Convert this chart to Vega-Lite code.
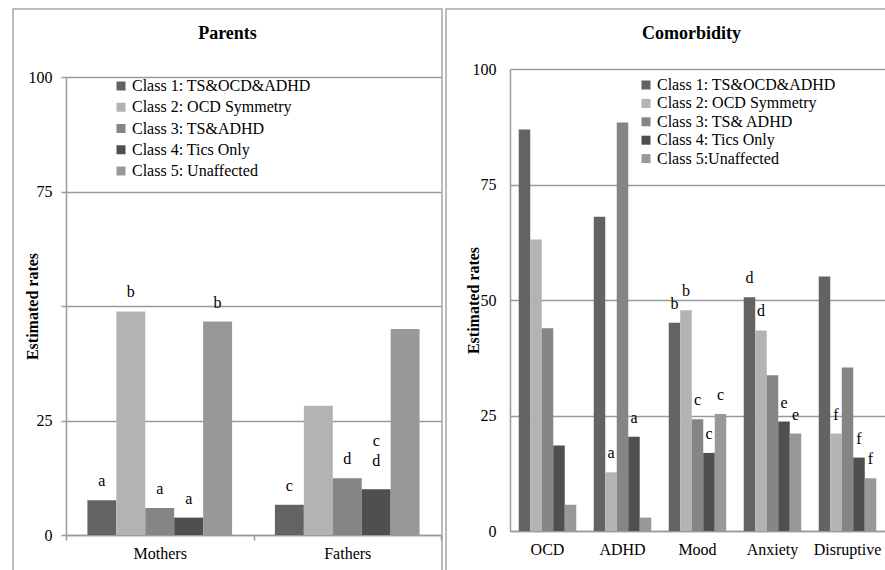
{
  "$schema": "https://vega.github.io/schema/vega-lite/v6.json",
  "padding": {"left": 12, "top": 8, "right": 0, "bottom": 0},
  "spacing": 2,
  "background": "white",
  "config": {
    "font": "Liberation Serif",
    "view": {"stroke": "#a6a6a6", "strokeWidth": 1.5},
    "axis": {"labelFont": "Liberation Serif", "labelFontSize": 16, "labelColor": "#000", "titleFont": "Liberation Serif", "titleColor": "#000", "domainColor": "#9a9a9a", "domainWidth": 1.5, "tickColor": "#9a9a9a", "tickWidth": 1.5, "gridColor": "#9a9a9a", "gridWidth": 1.5},
    "legend": {"labelFont": "Liberation Serif", "labelFontSize": 16, "labelColor": "#000", "labelLimit": 0, "symbolType": "square", "symbolSize": 81, "symbolStrokeWidth": 0, "padding": 0, "labelOffset": 3},
    "title": {"font": "Liberation Serif", "fontSize": 18, "fontWeight": "bold", "color": "#000"}
  },
  "datasets": {
    "parents": [
      {"group": "Mothers", "cls": "Class 1: TS&OCD&ADHD", "rate": 7.6, "sig": "a"},
      {"group": "Mothers", "cls": "Class 2: OCD Symmetry", "rate": 48.8, "sig": "b"},
      {"group": "Mothers", "cls": "Class 3: TS&ADHD", "rate": 5.9, "sig": "a"},
      {"group": "Mothers", "cls": "Class 4: Tics Only", "rate": 3.8, "sig": "a"},
      {"group": "Mothers", "cls": "Class 5: Unaffected", "rate": 46.6, "sig": "b"},
      {"group": "Fathers", "cls": "Class 1: TS&OCD&ADHD", "rate": 6.6, "sig": "c"},
      {"group": "Fathers", "cls": "Class 2: OCD Symmetry", "rate": 28.2, "sig": ""},
      {"group": "Fathers", "cls": "Class 3: TS&ADHD", "rate": 12.4, "sig": "d"},
      {"group": "Fathers", "cls": "Class 4: Tics Only", "rate": 10.0, "sig": "c\nd"},
      {"group": "Fathers", "cls": "Class 5: Unaffected", "rate": 45.0, "sig": ""}
    ],
    "comorb": [
      {"group": "OCD", "cls": "Class 1: TS&OCD&ADHD", "rate": 86.9, "sig": ""},
      {"group": "OCD", "cls": "Class 2: OCD Symmetry", "rate": 63.1, "sig": ""},
      {"group": "OCD", "cls": "Class 3: TS& ADHD", "rate": 43.9, "sig": ""},
      {"group": "OCD", "cls": "Class 4: Tics Only", "rate": 18.5, "sig": ""},
      {"group": "OCD", "cls": "Class 5:Unaffected", "rate": 5.7, "sig": ""},
      {"group": "ADHD", "cls": "Class 1: TS&OCD&ADHD", "rate": 68.0, "sig": ""},
      {"group": "ADHD", "cls": "Class 2: OCD Symmetry", "rate": 12.7, "sig": "a"},
      {"group": "ADHD", "cls": "Class 3: TS& ADHD", "rate": 88.4, "sig": ""},
      {"group": "ADHD", "cls": "Class 4: Tics Only", "rate": 20.4, "sig": "a"},
      {"group": "ADHD", "cls": "Class 5:Unaffected", "rate": 2.9, "sig": ""},
      {"group": "Mood", "cls": "Class 1: TS&OCD&ADHD", "rate": 45.1, "sig": "b"},
      {"group": "Mood", "cls": "Class 2: OCD Symmetry", "rate": 47.8, "sig": "b"},
      {"group": "Mood", "cls": "Class 3: TS& ADHD", "rate": 24.2, "sig": "c"},
      {"group": "Mood", "cls": "Class 4: Tics Only", "rate": 16.9, "sig": "c"},
      {"group": "Mood", "cls": "Class 5:Unaffected", "rate": 25.3, "sig": "c"},
      {"group": "Anxiety", "cls": "Class 1: TS&OCD&ADHD", "rate": 50.6, "sig": "d"},
      {"group": "Anxiety", "cls": "Class 2: OCD Symmetry", "rate": 43.4, "sig": "d"},
      {"group": "Anxiety", "cls": "Class 3: TS& ADHD", "rate": 33.7, "sig": ""},
      {"group": "Anxiety", "cls": "Class 4: Tics Only", "rate": 23.7, "sig": "e"},
      {"group": "Anxiety", "cls": "Class 5:Unaffected", "rate": 21.1, "sig": "e"},
      {"group": "Disruptive", "cls": "Class 1: TS&OCD&ADHD", "rate": 55.1, "sig": ""},
      {"group": "Disruptive", "cls": "Class 2: OCD Symmetry", "rate": 21.1, "sig": "f"},
      {"group": "Disruptive", "cls": "Class 3: TS& ADHD", "rate": 35.4, "sig": ""},
      {"group": "Disruptive", "cls": "Class 4: Tics Only", "rate": 15.9, "sig": "f"},
      {"group": "Disruptive", "cls": "Class 5:Unaffected", "rate": 11.4, "sig": "f"}
    ]
  },
  "resolve": {"scale": {"color": "independent", "x": "independent", "y": "independent", "xOffset": "independent"}, "legend": {"color": "independent"}},
  "hconcat": [
    {
      "width": 429,
      "height": 580,
      "title": {"text": "Parents", "offset": -34, "anchor": "middle"},
      "data": {"name": "parents"},
      "encoding": {
        "x": {"field": "group", "type": "nominal", "sort": ["Mothers", "Fathers"], "title": null,
          "scale": {"range": [53, 428], "paddingInner": 0, "paddingOuter": 0},
          "axis": {"offset": -54, "labelAngle": 0, "tickBand": "extent", "tickSize": 5, "labelPadding": 5}},
        "xOffset": {"field": "cls", "type": "nominal", "scale": {"paddingOuter": 0.74, "paddingInner": 0}},
        "y": {"field": "rate", "type": "quantitative", "title": "Estimated rates",
          "scale": {"domain": [0, 100], "range": [526, 68], "nice": false},
          "axis": {"offset": -53, "values": [0, 25, 50, 75, 100], "labelExpr": "datum.value == 50 ? '' : datum.label", "tickSize": 5, "labelPadding": 9, "domain": true, "titleFontSize": 16, "titleFontWeight": "bold", "titlePadding": -12}}
      },
      "layer": [
        {
          "mark": {"type": "bar"},
          "encoding": {
            "color": {"field": "cls", "type": "nominal", "title": null,
              "scale": {"domain": ["Class 1: TS&OCD&ADHD", "Class 2: OCD Symmetry", "Class 3: TS&ADHD", "Class 4: Tics Only", "Class 5: Unaffected"], "range": ["#636363", "#b3b3b3", "#858585", "#4f4f4f", "#989898"]},
              "legend": {"orient": "none", "legendX": 100, "legendY": 69, "rowPadding": 5.25}}
          }
        },
        {
          "transform": [{"filter": "length(datum.sig) <= 1"}],
          "mark": {"type": "text", "baseline": "bottom", "dy": -11, "fontSize": 16, "color": "#000"},
          "encoding": {"text": {"field": "sig", "type": "nominal"}}
        },
        {
          "transform": [{"filter": "length(datum.sig) > 1"}],
          "mark": {"type": "text", "baseline": "bottom", "dy": -40, "fontSize": 16, "color": "#000", "lineBreak": "\n", "lineHeight": 20},
          "encoding": {"text": {"field": "sig", "type": "nominal"}}
        }
      ]
    },
    {
      "width": 443,
      "height": 580,
      "title": {"text": "Comorbidity", "offset": -34, "anchor": "middle", "dx": 24},
      "data": {"name": "comorb"},
      "encoding": {
        "x": {"field": "group", "type": "nominal", "sort": ["OCD", "ADHD", "Mood", "Anxiety", "Disruptive"], "title": null,
          "scale": {"range": [64, 439], "paddingInner": 0, "paddingOuter": 0},
          "axis": {"offset": -58, "labelAngle": 0, "ticks": false, "labelPadding": 10}},
        "xOffset": {"field": "cls", "type": "nominal", "scale": {"paddingOuter": 0.76, "paddingInner": 0}},
        "y": {"field": "rate", "type": "quantitative", "title": "Estimated rates",
          "scale": {"domain": [0, 100], "range": [522, 60], "nice": false},
          "axis": {"offset": -64, "values": [0, 25, 50, 75, 100], "ticks": false, "labelPadding": 14, "titleFontSize": 16, "titleFontWeight": "bold", "titlePadding": -9}}
      },
      "layer": [
        {
          "mark": {"type": "bar"},
          "encoding": {
            "color": {"field": "cls", "type": "nominal", "title": null,
              "scale": {"domain": ["Class 1: TS&OCD&ADHD", "Class 2: OCD Symmetry", "Class 3: TS& ADHD", "Class 4: Tics Only", "Class 5:Unaffected"], "range": ["#636363", "#b3b3b3", "#858585", "#4f4f4f", "#989898"]},
              "legend": {"orient": "none", "legendX": 192, "legendY": 68, "rowPadding": 2.4}}
          }
        },
        {
          "mark": {"type": "text", "baseline": "bottom", "dy": -11, "fontSize": 16, "color": "#000"},
          "encoding": {"text": {"field": "sig", "type": "nominal"}}
        }
      ]
    }
  ]
}
